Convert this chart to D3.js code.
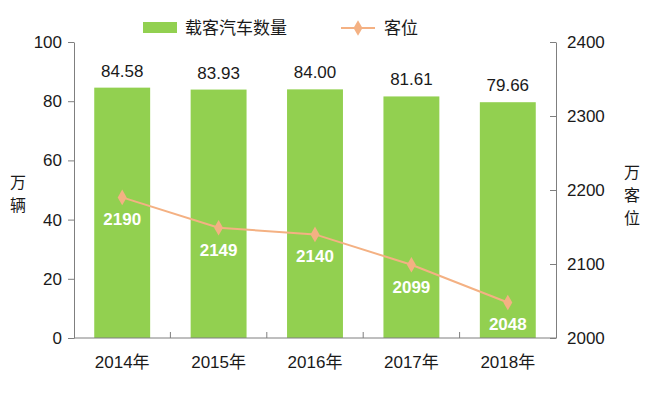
<!DOCTYPE html>
<html><head><meta charset="utf-8">
<script src="https://cdn.jsdelivr.net/npm/d3@7"></script>
<style>body{margin:0;background:#fff}svg{display:block}text{font-family:"Liberation Sans",Arial,"Noto Sans CJK SC",sans-serif}</style>
</head><body>
<svg id="c" width="650" height="396"></svg>
<script>
const years = ["2014年","2015年","2016年","2017年","2018年"];
const vehicles = [84.58, 83.93, 84.00, 81.61, 79.66];
const seats = [2190, 2149, 2140, 2099, 2048];
const leftTicks = [0, 20, 40, 60, 80, 100];
const rightTicks = [2000, 2100, 2200, 2300, 2400];
const vehicleLabels = ["84.58","83.93","84.00","81.61","79.66"];
const leftTitle = ["万","辆"];
const rightTitle = ["万","客","位"];

const svg = d3.select("#c");
const L = 74, R = 556, T = 42, B = 338;
const FS = 17;
const cjk = '"Noto Sans CJK SC",sans-serif';
const x = d3.scaleBand().domain(years).range([L, R]).paddingInner(0.42).paddingOuter(0.21);
const yL = d3.scaleLinear().domain([0, 100]).range([B, T]);
const yR = d3.scaleLinear().domain([2000, 2400]).range([B, T]);
const green = "#92d050", orange = "#f4b183", axisCol = "#7f7f7f", txt = "#1a1a1a";

// bars
svg.selectAll("rect.bar").data(vehicles).join("rect").attr("class","bar")
  .attr("x",(d,i)=>x(years[i])).attr("width",x.bandwidth())
  .attr("y",d=>yL(d)).attr("height",d=>B-yL(d)).attr("fill",green);

// bar labels
svg.selectAll("text.bl").data(vehicles).join("text").attr("class","bl")
  .attr("x",(d,i)=>x(years[i])+x.bandwidth()/2).attr("y",d=>yL(d)-11)
  .attr("text-anchor","middle").attr("font-size",FS).attr("fill",txt)
  .text((d,i)=>vehicleLabels[i]);

// left axis
const gl = svg.append("g").attr("transform",`translate(${L},0)`)
  .call(d3.axisLeft(yL).tickValues(leftTicks).tickSize(6).tickPadding(6).tickSizeOuter(0));
gl.select(".domain").attr("stroke",axisCol);
gl.selectAll(".tick line").attr("stroke",axisCol);
gl.selectAll(".tick text").attr("font-size",FS).attr("fill",txt).attr("font-family","Liberation Sans, Arial, sans-serif");

// right axis (ticks point inward)
const gr = svg.append("g").attr("transform",`translate(${R},0)`)
  .call(d3.axisRight(yR).tickValues(rightTicks).tickFormat(d3.format("d")).tickSize(0).tickPadding(11).tickSizeOuter(0));
gr.select(".domain").attr("stroke",axisCol);
gr.selectAll(".tick line").attr("x2",-6).attr("stroke",axisCol);
gr.selectAll(".tick text").attr("font-size",FS).attr("fill",txt).attr("font-family","Liberation Sans, Arial, sans-serif");

// bottom axis
const bx = d3.scaleLinear().domain([0,5]).range([L,R]);
svg.append("line").attr("x1",L).attr("x2",R).attr("y1",B).attr("y2",B).attr("stroke",axisCol);
svg.selectAll("line.xt").data(d3.range(1,5)).join("line").attr("class","xt")
  .attr("x1",d=>bx(d)).attr("x2",d=>bx(d)).attr("y1",B).attr("y2",B-6).attr("stroke",axisCol);
svg.selectAll("text.xl").data(years).join("text").attr("class","xl")
  .attr("x",d=>x(d)+x.bandwidth()/2).attr("y",B+30).attr("text-anchor","middle")
  .attr("font-size",FS).attr("fill",txt).text(d=>d);

// line
const cx = (i)=>x(years[i])+x.bandwidth()/2;
svg.append("path").datum(seats)
  .attr("d",d3.line().x((d,i)=>cx(i)).y(d=>yR(d)))
  .attr("fill","none").attr("stroke",orange).attr("stroke-width",2);
const diamond = d3.symbol().type(d3.symbolDiamond).size(70);
svg.selectAll("path.pt").data(seats).join("path").attr("class","pt")
  .attr("d",diamond).attr("transform",(d,i)=>`translate(${cx(i)},${yR(d)})`).attr("fill",orange);
svg.selectAll("text.sl").data(seats).join("text").attr("class","sl")
  .attr("x",(d,i)=>cx(i)).attr("y",d=>yR(d)+28).attr("text-anchor","middle")
  .attr("font-size",FS).attr("font-weight","bold").attr("fill","#fff").text(d=>d);

// axis titles (stacked characters)
svg.selectAll("text.lt").data(leftTitle).join("text").attr("class","lt")
  .attr("x",18).attr("y",(d,i)=>188+i*23).attr("text-anchor","middle")
  .attr("font-size",16).attr("fill",txt).style("font-family",cjk).text(d=>d);
svg.selectAll("text.rt").data(rightTitle).join("text").attr("class","rt")
  .attr("x",632).attr("y",(d,i)=>178+i*23).attr("text-anchor","middle")
  .attr("font-size",16).attr("fill",txt).style("font-family",cjk).text(d=>d);

// legend
svg.append("rect").attr("x",143).attr("y",22).attr("width",34).attr("height",11).attr("fill",green);
svg.append("text").attr("x",185).attr("y",34).attr("font-size",FS).attr("fill",txt).style("font-family",cjk).text("载客汽车数量");
svg.append("line").attr("x1",341).attr("x2",375).attr("y1",28).attr("y2",28).attr("stroke",orange).attr("stroke-width",2);
svg.append("path").attr("d",diamond).attr("transform","translate(358,28)").attr("fill",orange);
svg.append("text").attr("x",384).attr("y",34).attr("font-size",FS).attr("fill",txt).style("font-family",cjk).text("客位");
</script>
</body></html>
